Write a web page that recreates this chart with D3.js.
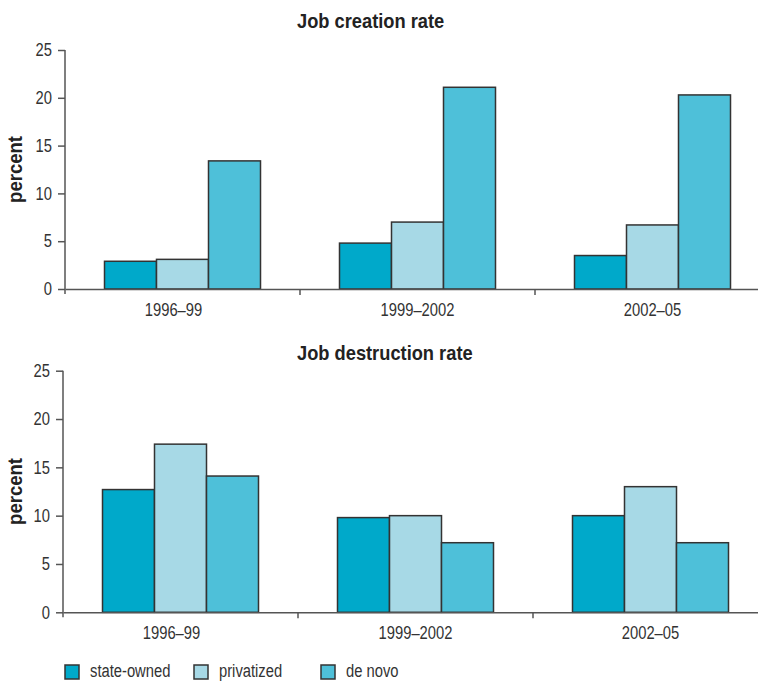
<!DOCTYPE html>
<html>
<head>
<meta charset="utf-8">
<script src="https://cdn.jsdelivr.net/npm/d3@7"></script>
<style>
  html, body { margin: 0; padding: 0; background: #fff; }
  svg { display: block; }
  text { font-family: "Liberation Sans", Arial, sans-serif; fill: #333; }
</style>
</head>
<body>
<svg id="chart" width="758" height="681"></svg>
<script>
// ---- Data ----
const periods = ["1996\u201399", "1999\u20132002", "2002\u201305"];
const seriesNames = ["state-owned", "privatized", "de novo"];
const seriesColors = ["#00a9ca", "#a7d9e6", "#4ec0d9"];
const creationStateOwned = [2.9, 4.8, 3.5];
const creationPrivatized = [3.1, 7.0, 6.7];
const creationDeNovo = [13.4, 21.1, 20.3];
const destructionStateOwned = [12.7, 9.8, 10.0];
const destructionPrivatized = [17.4, 10.0, 13.0];
const destructionDeNovo = [14.1, 7.2, 7.2];
const yTicks = [0, 5, 10, 15, 20, 25];
const panelTitles = ["Job creation rate", "Job destruction rate"];
const yLabel = "percent";

const panels = [
  { title: panelTitles[0], values: [creationStateOwned, creationPrivatized, creationDeNovo],
    left: 65, top: 50, bottom: 289, titleY: 28 },
  { title: panelTitles[1], values: [destructionStateOwned, destructionPrivatized, destructionDeNovo],
    left: 63, top: 370.7, bottom: 612.3, titleY: 360 }
];

const svg = d3.select("#chart");
const bandWidth = 235;
const groupWidth = 156;
const CONDENSE = 0.82;

function condense(sel, f) {
  sel.each(function () {
    const w = this.getComputedTextLength();
    if (w > 0) {
      d3.select(this).attr("textLength", w * f).attr("lengthAdjust", "spacingAndGlyphs");
    }
  });
}

panels.forEach(p => {
  const g = svg.append("g");
  const x = d3.scaleBand().domain(periods).range([p.left, p.left + bandWidth * periods.length]).padding(0);
  const x1 = d3.scaleBand().domain(seriesNames).range([0, groupWidth]).padding(0);
  const y = d3.scaleLinear().domain([0, 25]).range([p.bottom, p.top]);

  // title
  g.append("text").attr("x", 297).attr("y", p.titleY)
    .style("font-size", "21px").style("font-weight", "bold").style("fill", "#222")
    .text(p.title).call(condense, 0.87);

  // y label
  g.append("text")
    .attr("transform", `translate(22,${(p.top + p.bottom) / 2}) rotate(-90)`)
    .attr("text-anchor", "middle")
    .style("font-size", "21px").style("font-weight", "bold").style("fill", "#222")
    .text(yLabel).call(condense, 0.88);

  // bars
  const data = [];
  periods.forEach((per, i) => {
    seriesNames.forEach((s, j) => data.push({ per, s, j, v: p.values[j][i] }));
  });
  g.selectAll("rect.bar").data(data).enter().append("rect")
    .attr("class", "bar")
    .attr("x", d => x(d.per) + x.bandwidth() / 2 - groupWidth / 2 + x1(d.s))
    .attr("width", x1.bandwidth())
    .attr("y", d => y(d.v))
    .attr("height", d => y(0) - y(d.v))
    .attr("fill", d => seriesColors[d.j])
    .attr("stroke", "#333")
    .attr("stroke-width", 1.5);

  // y axis
  const yAxis = d3.axisLeft(y).tickValues(yTicks).tickSize(7).tickPadding(6).tickSizeOuter(0);
  const ya = g.append("g").attr("transform", `translate(${p.left},0)`).call(yAxis);
  ya.select(".domain").attr("d", `M0,${p.top}V${p.bottom + 5}`);
  ya.selectAll("line").attr("stroke", "#555").attr("stroke-width", 1.5);
  ya.select(".domain").attr("stroke", "#555").attr("stroke-width", 1.5);
  ya.selectAll("text").style("font-size", "18px").style("font-family", "'Liberation Sans', Arial, sans-serif")
    .attr("fill", "#333").call(condense, CONDENSE);

  // x axis
  const xAxis = d3.axisBottom(x).tickSize(0).tickPadding(14).tickSizeOuter(0);
  const xa = g.append("g").attr("transform", `translate(0,${p.bottom})`).call(xAxis);
  xa.select(".domain").attr("stroke", "#555").attr("stroke-width", 1.5);
  xa.selectAll("text").style("font-size", "18px").style("font-family", "'Liberation Sans', Arial, sans-serif")
    .attr("fill", "#333").attr("dx", (d, i) => i === 0 ? -9 : 0).call(condense, CONDENSE);
  // boundary ticks between categories
  const bounds = periods.slice(1).map(per => x(per));
  xa.selectAll("line.sep").data(bounds).enter().append("line")
    .attr("class", "sep")
    .attr("x1", d => d).attr("x2", d => d)
    .attr("y1", 0).attr("y2", 6)
    .attr("stroke", "#555").attr("stroke-width", 1.5);
});

// legend
const legendX = [65, 194, 321];
const lg = svg.append("g");
seriesNames.forEach((s, i) => {
  lg.append("rect").attr("x", legendX[i]).attr("y", 665).attr("width", 14).attr("height", 14)
    .attr("fill", seriesColors[i]).attr("stroke", "#333").attr("stroke-width", 1.5);
  lg.append("text").attr("x", legendX[i] + 25).attr("y", 677)
    .style("font-size", "18px").text(s).call(condense, CONDENSE);
});
</script>
</body>
</html>
